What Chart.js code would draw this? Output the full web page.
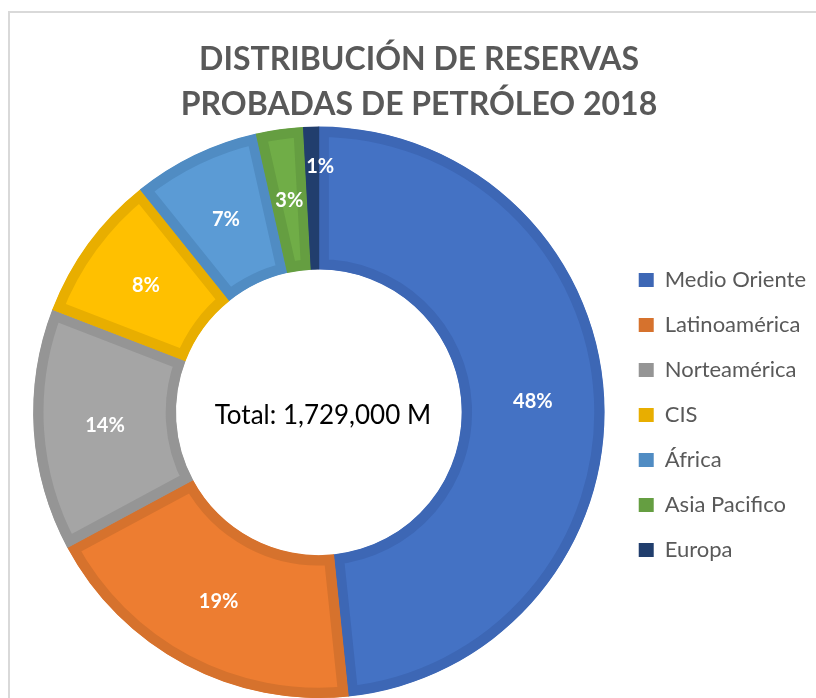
<!DOCTYPE html>
<html>
<head>
<meta charset="utf-8">
<script src="https://cdn.jsdelivr.net/npm/chart.js@4"></script>
<style>
  html, body { margin: 0; padding: 0; background: #fff; overflow: hidden; }
  #wrap { position: relative; width: 816px; height: 698px; }
  #frame { position: absolute; left: 8px; top: 11px; right: -4px; bottom: -4px;
           border-left: 2px solid #d9d9d9; border-top: 2px solid #d9d9d9; }
  canvas { position: absolute; left: 0; top: 0; }
</style>
</head>
<body>
<div id="wrap">
  <div id="frame"></div>
  <canvas id="reservasChart"></canvas>
</div>
<script>
const regiones = ["Medio Oriente", "Latinoamérica", "Norteamérica", "CIS", "África", "Asia Pacifico", "Europa"];
// reservas en millones de barriles
const reservas = [836000, 325000, 237000, 145000, 125000, 46000, 15000];
const colores = ["#4472C4", "#ED7D31", "#A5A5A5", "#FFC000", "#5B9BD5", "#70AD47", "#264478"];
const bordes = ["#3D67B5", "#D6722D", "#959595", "#E8AE00", "#508CC3", "#659E41", "#213E6D"];
const titulo = ["DISTRIBUCIÓN DE RESERVAS", "PROBADAS DE PETRÓLEO 2018"];

const total = reservas.reduce((a, b) => a + b, 0);

// etiquetas de porcentaje dentro de cada sector
const etiquetasPorcentaje = {
  id: "etiquetasPorcentaje",
  afterDatasetsDraw(chart) {
    const ctx = chart.ctx;
    const meta = chart.getDatasetMeta(0);
    ctx.save();
    ctx.fillStyle = "#ffffff";
    ctx.font = "bold 20px Lato";
    ctx.textAlign = "center";
    ctx.textBaseline = "middle";
    meta.data.forEach((arc, i) => {
      const p = arc.getProps(["x", "y", "startAngle", "endAngle", "innerRadius", "outerRadius"], true);
      const frac = reservas[i] / total;
      const mid = (p.startAngle + p.endAngle) / 2;
      let r = (p.innerRadius + p.outerRadius) / 2;
      if (frac < 0.015) r = p.innerRadius + (p.outerRadius - p.innerRadius) * 0.72;
      const x = p.x + Math.cos(mid) * r + (frac < 0.015 ? 8 : 0);
      const y = p.y + Math.sin(mid) * r;
      ctx.fillText(Math.round(frac * 100) + "%", x, y);
    });
    ctx.restore();
  }
};

// texto del total en el centro
const textoCentro = {
  id: "textoCentro",
  afterDatasetsDraw(chart) {
    const arc = chart.getDatasetMeta(0).data[0];
    if (!arc) return;
    const ctx = chart.ctx;
    ctx.save();
    ctx.fillStyle = "#000000";
    ctx.font = "26px Lato";
    ctx.textAlign = "center";
    ctx.textBaseline = "middle";
    ctx.fillText("Total: " + total.toLocaleString("en-US") + " M", arc.x + 4, arc.y + 3);
    ctx.restore();
  }
};

const ctx = document.getElementById("reservasChart").getContext("2d");
new Chart(ctx, {
  type: "doughnut",
  data: {
    labels: regiones,
    datasets: [{
      data: reservas,
      backgroundColor: colores,
      borderColor: bordes,
      borderWidth: 10,
      hoverBorderWidth: 10,
      borderAlign: "inner",
      hoverOffset: 0,
      offset: 0,
    }],
  },
  options: {
    responsive: true,
    maintainAspectRatio: false,
    animation: false,
    cutout: "50%",
    layout: { padding: { left: 22, right: 0, top: 0, bottom: 0 } },
    plugins: {
      tooltip: { enabled: false },
      title: {
        display: true,
        text: titulo,
        color: "#595959",
        font: { family: "Lato", size: 32, weight: "bold", lineHeight: 1.4 },
        padding: { top: 37, bottom: 0 },
      },
      legend: {
        position: "right",
        // titulo vacio solo para bajar la lista al centro del anillo
        title: { display: true, text: " ", font: { size: 1, lineHeight: 1 }, padding: { top: 131, bottom: 0 } },
        labels: {
          color: "#595959",
          font: { family: "Lato", size: 22 },
          boxWidth: 15,
          boxHeight: 14,
          padding: 23,
          generateLabels(chart) {
            return regiones.map((nombre, i) => ({
              text: nombre,
              fillStyle: bordes[i],
              strokeStyle: bordes[i],
              lineWidth: 0,
              fontColor: "#595959",
              hidden: false,
              index: i,
            }));
          },
        },
      },
    },
  },
  plugins: [etiquetasPorcentaje, textoCentro],
});
</script>
</body>
</html>
